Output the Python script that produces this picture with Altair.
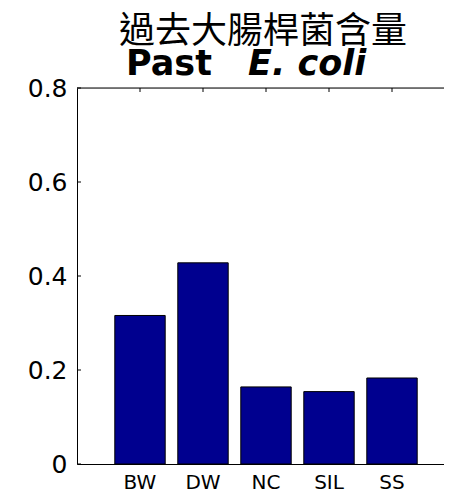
import altair as alt
import pandas as pd

sites = ["BW", "DW", "NC", "SIL", "SS"]
values = [0.316, 0.428, 0.164, 0.154, 0.183]
y_ticks = [0, 0.2, 0.4, 0.6, 0.8]
title_zh = "過去大腸桿菌含量"
title_en_plain = "Past"
title_en_italic = "E. coli"

FULL_W = 378   # full axes width (right edge falls outside the picture)
W, H = 367, 376

bars_df = pd.DataFrame({"site": sites, "value": values})
yt_df = pd.DataFrame({"v": y_ticks})
xt_df = pd.DataFrame({"site": sites})

x_scale = alt.Scale(domain=sites, paddingInner=0.2, paddingOuter=0.6, range=[0, FULL_W])
y_scale = alt.Scale(domain=[0, 0.8], nice=False, zero=True)

x_enc = alt.X(
    "site:N",
    scale=x_scale,
    sort=sites,
    axis=alt.Axis(
        title=None, labelAngle=0, ticks=False, grid=False, labelPadding=8,
        labelFont="DejaVu Sans", labelFontSize=20, labelColor="black",
        domainColor="black", domainWidth=1,
    ),
)

bars = alt.Chart(bars_df).mark_bar(
    color="#00008f", stroke="black", strokeWidth=1
).encode(
    x=x_enc,
    y=alt.Y(
        "value:Q",
        scale=y_scale,
        axis=alt.Axis(
            title=None, values=y_ticks, ticks=False, grid=False, labelPadding=10,
            labelExpr="datum.value == 0 ? '0' : format(datum.value, '.1f')",
            labelFont="DejaVu Sans", labelFontSize=25, labelColor="black",
            domainColor="black", domainWidth=1,
        ),
    ),
)

left_ticks = alt.Chart(yt_df).mark_rule(color="black", strokeWidth=1).encode(
    y=alt.Y("v:Q", scale=y_scale),
    x=alt.value(0), x2=alt.value(4),
)
top_ticks = alt.Chart(xt_df).mark_rule(color="black", strokeWidth=1).encode(
    x=alt.X("site:N", scale=x_scale, sort=sites),
    y=alt.value(0), y2=alt.value(4),
)
top_line = alt.Chart(alt.Data(values=[{"k": 0}])).mark_rule(color="black", strokeWidth=1).encode(
    x=alt.value(0), x2=alt.value(W), y=alt.value(0)
)

t_zh = alt.Chart(alt.Data(values=[{"t": title_zh}])).mark_text(
    font="Noto Sans CJK TC", fontSize=36, align="center", baseline="alphabetic", color="black"
).encode(text="t:N", x=alt.value(186), y=alt.value(-45))

t_en1 = alt.Chart(alt.Data(values=[{"t": title_en_plain}])).mark_text(
    font="DejaVu Sans", fontSize=35, fontWeight="bold", align="left", baseline="alphabetic", color="black"
).encode(text="t:N", x=alt.value(49), y=alt.value(-13))

t_en2 = alt.Chart(alt.Data(values=[{"t": title_en_italic}])).mark_text(
    font="DejaVu Sans", fontSize=35, fontWeight="bold", fontStyle="italic", align="left",
    baseline="alphabetic", color="black"
).encode(text="t:N", x=alt.value(171), y=alt.value(-13))

chart = alt.layer(bars, left_ticks, top_ticks, top_line, t_zh, t_en1, t_en2).properties(
    width=W, height=H,
    autosize=alt.AutoSizeParams(type="none"),
    padding={"left": 69, "top": 80, "right": 0, "bottom": 26},
).configure_view(strokeWidth=0, stroke="white").configure_axis(grid=False).configure(background="white")

chart.save("out.html", embed_options={"renderer": "svg", "actions": False})
